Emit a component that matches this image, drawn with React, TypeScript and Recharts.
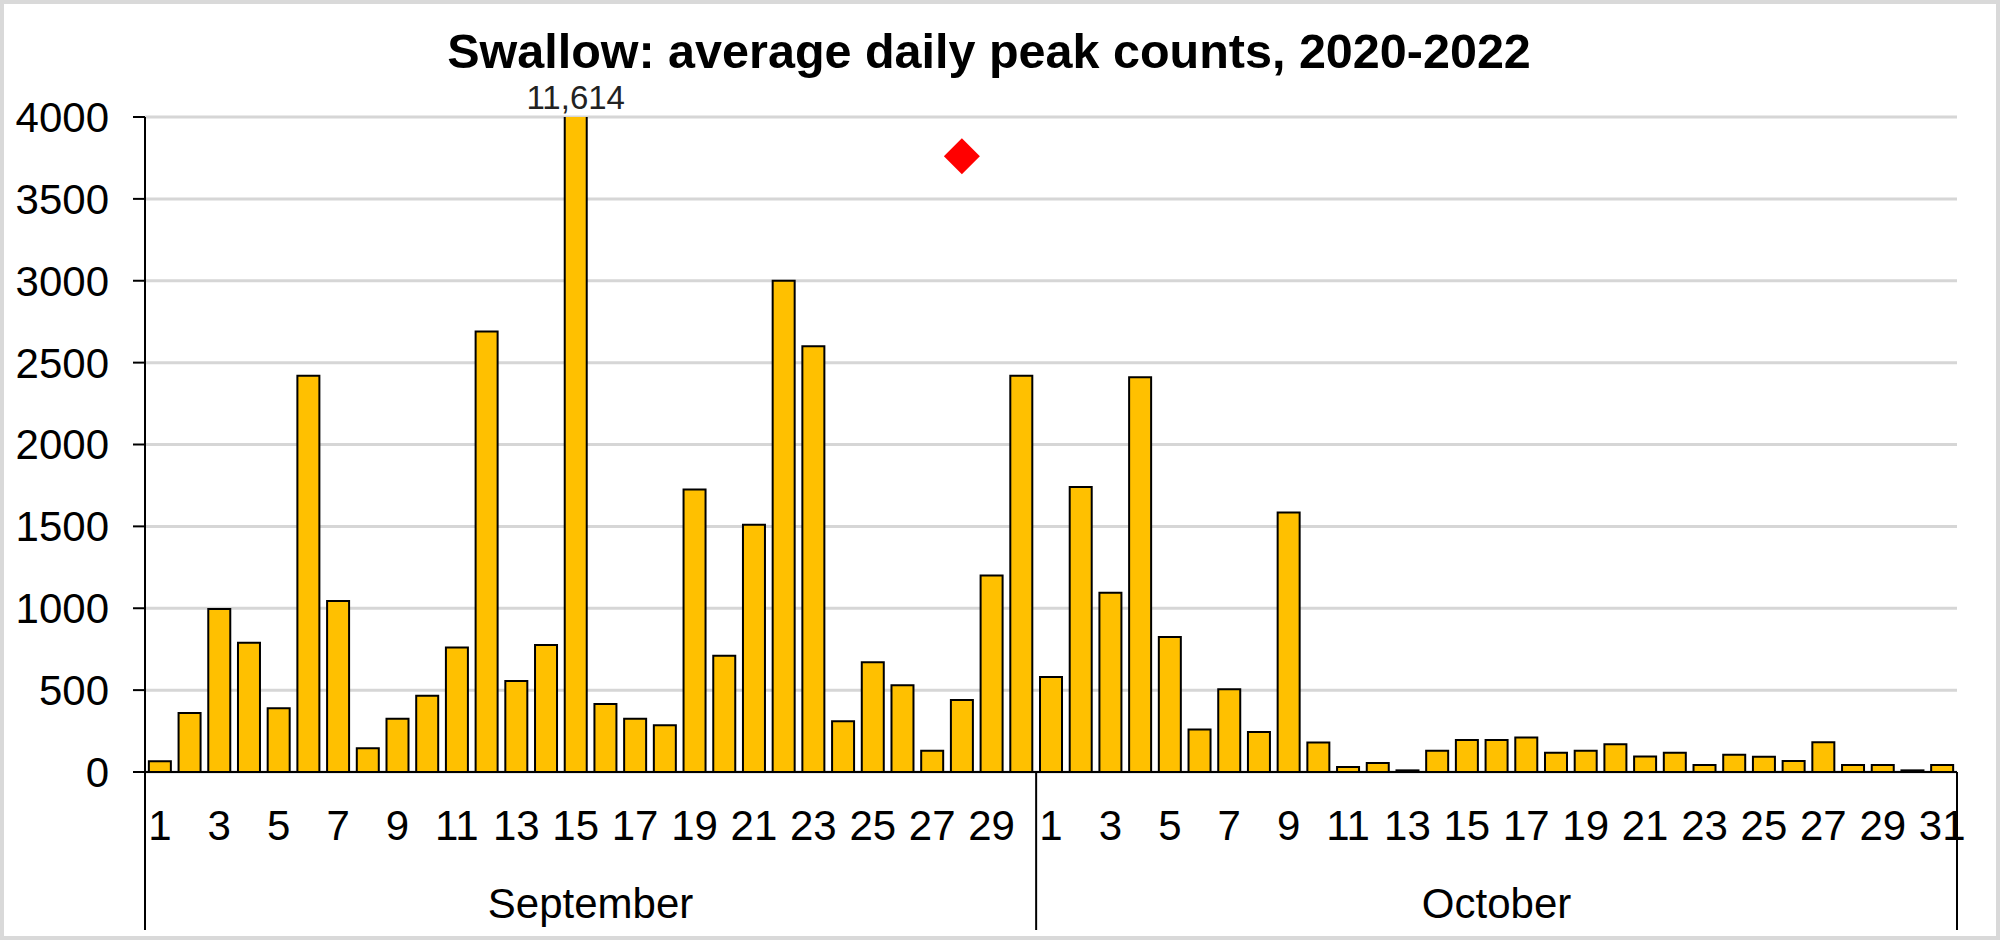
import { ComposedChart, Bar, Scatter, XAxis, YAxis, CartesianGrid, ReferenceDot } from "recharts";

const FONT = '"Liberation Sans", Arial, sans-serif';

// average daily peak counts
const septemberCounts = [
  65, 360, 995, 790, 390, 2420, 1045, 145, 325, 465, 760, 2690, 555, 775, 11614,
  415, 325, 285, 1725, 710, 1510, 3000, 2600, 310, 670, 530, 130, 440, 1200, 2420,
];
const octoberCounts = [
  580, 1740, 1095, 2410, 825, 260, 505, 245, 1585, 180, 30, 55, 10, 130, 195, 195,
  210, 118, 130, 170, 95, 118, 43, 105, 93, 67, 181, 43, 43, 10, 43,
];
const yTicks = [0, 500, 1000, 1500, 2000, 2500, 3000, 3500, 4000];
const yMax = 4000;
const marker = { month: "September", day: 28, value: 3760 };
const overflowLabel = { month: "September", day: 15, text: "11,614" };

const monthSeries = [
  { name: "September", counts: septemberCounts },
  { name: "October", counts: octoberCounts },
];

const rows = monthSeries.flatMap((m) =>
  m.counts.map((count, i) => ({
    key: `${m.name}-${i + 1}`,
    month: m.name,
    day: i + 1,
    count,
    marker: m.name === marker.month && i + 1 === marker.day ? marker.value : null,
  }))
);

// middle position (in category index units) of each month group
const monthMiddles: { name: string; mid: number }[] = [];
{
  let start = 0;
  for (const m of monthSeries) {
    monthMiddles.push({ name: m.name, mid: start + (m.counts.length - 1) / 2 });
    start += m.counts.length;
  }
}

function DayTick(props: any) {
  const { x, y, index, payload } = props;
  const half = payload?.offset ?? 14.85;
  const row = rows[index];
  if (!row) return null;
  const items: any[] = [];
  if (row.day % 2 === 1) {
    items.push(
      <text key="d" x={x} y={y + 68} textAnchor="middle" fontSize={42} fill="#000" fontFamily={FONT}>
        {row.day}
      </text>
    );
  }
  if (row.day === 1) {
    items.push(<line key="l" x1={x - half} x2={x - half} y1={y} y2={y + 158} stroke="#000" strokeWidth={2} />);
  }
  if (index === rows.length - 1) {
    items.push(<line key="r" x1={x + half} x2={x + half} y1={y} y2={y + 158} stroke="#000" strokeWidth={2} />);
  }
  for (const m of monthMiddles) {
    if (Math.floor(m.mid) === index) {
      const mx = x + (m.mid - index) * 2 * half;
      items.push(
        <text key="m" x={mx} y={y + 146} textAnchor="middle" fontSize={42} fill="#000" fontFamily={FONT}>
          {m.name}
        </text>
      );
    }
  }
  return <g>{items}</g>;
}

function Diamond(props: any) {
  const { cx, cy, payload } = props;
  if (cx == null || cy == null || payload?.marker == null) return <g />;
  const r = 18;
  return <path d={`M${cx},${cy - r}L${cx + r},${cy}L${cx},${cy + r}L${cx - r},${cy}Z`} fill="#ff0000" />;
}

export default function App() {
  return (
    <div style={{ position: "absolute", left: 0, top: 0, width: 2000, height: 940, background: "#fff" }}>
      <div
        style={{
          position: "absolute",
          left: 0,
          top: 27,
          width: 1978,
          textAlign: "center",
          fontFamily: FONT,
          fontWeight: 700,
          fontSize: 48.5,
          lineHeight: 1,
          color: "#000",
        }}
      >
        Swallow: average daily peak counts, 2020-2022
      </div>
      <ComposedChart
        width={2000}
        height={940}
        data={rows}
        margin={{ top: 117, right: 43, bottom: 0, left: 0 }}
        barCategoryGap="13%"
      >
        <CartesianGrid vertical={false} stroke="#d6d6d6" strokeWidth={3} />
        <XAxis
          dataKey="key"
          interval={0}
          tickLine={false}
          tickSize={0}
          tickMargin={0}
          height={168}
          axisLine={{ stroke: "#000", strokeWidth: 2 }}
          tick={(p: any) => <DayTick {...p} />}
        />
        <YAxis
          domain={[0, yMax]}
          ticks={yTicks}
          allowDataOverflow
          width={145}
          tickSize={12}
          tickMargin={24}
          axisLine={{ stroke: "#000", strokeWidth: 2 }}
          tickLine={{ stroke: "#000", strokeWidth: 2 }}
          tick={{ fontSize: 42, fill: "#000", fontFamily: FONT }}
        />
        <Bar dataKey="count" fill="#FFC000" stroke="#000" strokeWidth={2} isAnimationActive={false} />
        <Scatter dataKey="marker" fill="#ff0000" shape={Diamond} isAnimationActive={false} />
        <ReferenceDot
          x={`${overflowLabel.month}-${overflowLabel.day}`}
          y={yMax}
          r={0}
          stroke="none"
          label={{ value: overflowLabel.text, position: "top", offset: 8, fontSize: 33, fill: "#222", fontFamily: FONT }}
        />
      </ComposedChart>
      <div
        style={{
          position: "absolute",
          inset: 0,
          border: "4px solid #d9d9d9",
          pointerEvents: "none",
        }}
      />
    </div>
  );
}
